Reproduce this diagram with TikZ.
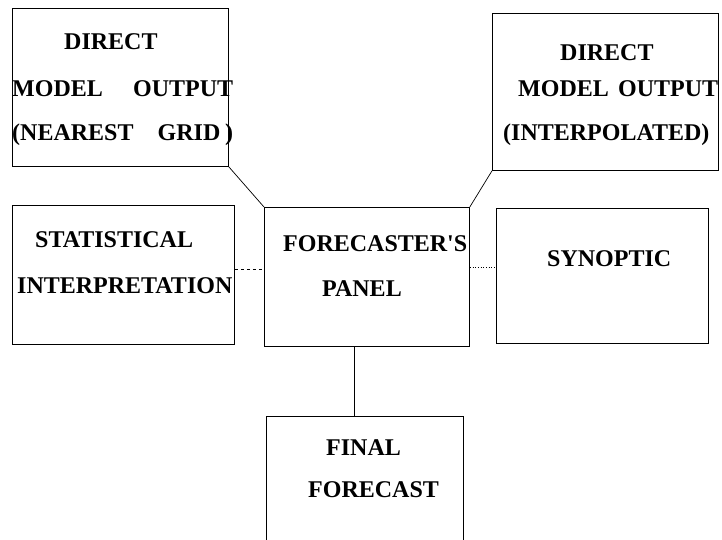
\documentclass[tikz,border=0pt]{standalone}
\usepackage{fontspec}
\setmainfont{Liberation Serif}
\newcommand{\straightq}{\XeTeXglyph\XeTeXcharglyph"0027\relax}
\begin{document}
\begin{tikzpicture}[x=1pt,y=-1pt,
  box/.style={draw=black,line width=0.8pt,rectangle,inner sep=0pt,anchor=north west},
  lbl/.style={anchor=base west,inner sep=0pt,font=\fontsize{24}{28}\selectfont\bfseries},
  conn/.style={draw=black,line width=0.7pt}]
\useasboundingbox (0,0) rectangle (722,539);
\clip (0,0) rectangle (722,539);
% boxes
\node[box,minimum width=216pt,minimum height=158pt] (tl) at (12,8) {};
\node[box,minimum width=226pt,minimum height=157pt] (tr) at (492,13) {};
\node[box,minimum width=222pt,minimum height=139pt] (stat) at (12,205) {};
\node[box,minimum width=205pt,minimum height=139pt] (panel) at (264,207) {};
\node[box,minimum width=212pt,minimum height=135pt] (syn) at (496,208) {};
\node[box,minimum width=197pt,minimum height=140pt] (final) at (266,416) {};
% texts
\node[lbl] (tl1) at (64,49) {DIRECT};
\node[lbl] (tl2) at (12,96) {\makebox[221pt][s]{MODEL\hfill OUTPUT}};
\node[lbl] (tl3) at (12,140) {\makebox[221pt][s]{(NEAREST\hfill GRID\hspace{0.2em})}};
\node[lbl] (tr1) at (560,60) {DIRECT};
\node[lbl] (tr2) at (518,96) {\makebox[200pt][s]{MODEL\hfill OUTPUT}};
\node[lbl] (tr3) at (503,140) {(INTERPOLATED)};
\node[lbl] (st1) at (35,247) {STATISTICAL};
\node[lbl] (st2) at (17,293) {INTERPRETATION};
\node[lbl] (pa1) at (283,251) {FORECASTER\straightq S};
\node[lbl] (pa2) at (322,296) {PANEL};
\node[lbl] (sy1) at (547,266) {SYNOPTIC};
\node[lbl] (fi1) at (326,455) {FINAL};
\node[lbl] (fi2) at (308,497) {FORECAST};
% connectors
\draw[conn] (tl.south east) -- (panel.north west);
\draw[conn] (tr.south west) -- (panel.north east);
\draw[conn,dashed] ([yshift=6pt]stat.east) -- ([yshift=6pt]stat.east -| panel.west);
\draw[conn,dotted] ([yshift=10pt]panel.east) -- ([yshift=10pt]panel.east -| syn.west);
\draw[conn] ([xshift=-13pt]panel.south) -- ([xshift=-13pt]panel.south |- final.north);
\end{tikzpicture}
\end{document}
